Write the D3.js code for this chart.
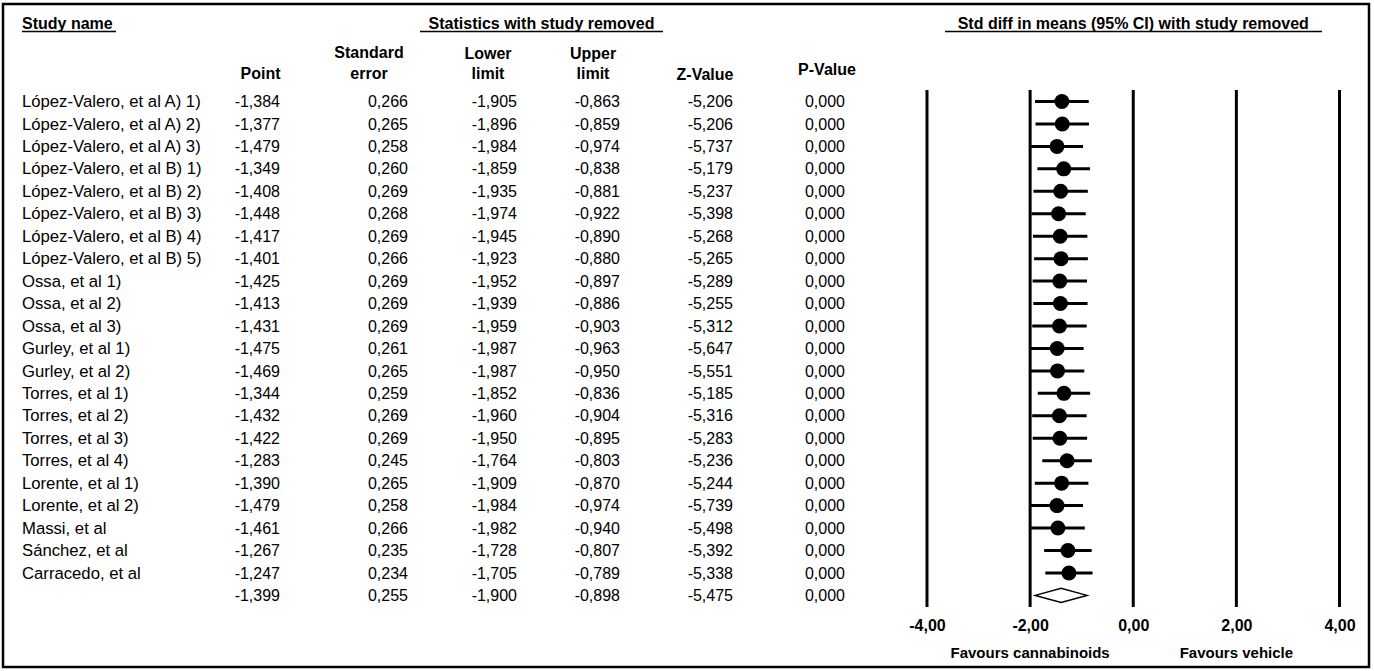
<!DOCTYPE html>
<html>
<head>
<meta charset="utf-8">
<script src="https://cdn.jsdelivr.net/npm/d3@7"></script>
<style>
  html, body { margin: 0; padding: 0; background: #fff; }
  svg { display: block; font-family: Arial, "Liberation Sans", Helvetica, sans-serif; }
</style>
</head>
<body>
<svg id="chart" width="1374" height="671"></svg>
<script>
// Leave-one-out sensitivity analysis: each row is the pooled result with that study removed
const studies = [
  "López-Valero, et al A) 1)", "López-Valero, et al A) 2)", "López-Valero, et al A) 3)",
  "López-Valero, et al B) 1)", "López-Valero, et al B) 2)", "López-Valero, et al B) 3)",
  "López-Valero, et al B) 4)", "López-Valero, et al B) 5)",
  "Ossa, et al 1)", "Ossa, et al 2)", "Ossa, et al 3)",
  "Gurley, et al 1)", "Gurley, et al 2)",
  "Torres, et al 1)", "Torres, et al 2)", "Torres, et al 3)", "Torres, et al 4)",
  "Lorente, et al 1)", "Lorente, et al 2)",
  "Massi, et al", "Sánchez, et al", "Carracedo, et al"
];
const point = [-1.384, -1.377, -1.479, -1.349, -1.408, -1.448, -1.417, -1.401, -1.425, -1.413, -1.431,
               -1.475, -1.469, -1.344, -1.432, -1.422, -1.283, -1.390, -1.479, -1.461, -1.267, -1.247];
const stdErr = [0.266, 0.265, 0.258, 0.260, 0.269, 0.268, 0.269, 0.266, 0.269, 0.269, 0.269,
                0.261, 0.265, 0.259, 0.269, 0.269, 0.245, 0.265, 0.258, 0.266, 0.235, 0.234];
const lower = [-1.905, -1.896, -1.984, -1.859, -1.935, -1.974, -1.945, -1.923, -1.952, -1.939, -1.959,
               -1.987, -1.987, -1.852, -1.960, -1.950, -1.764, -1.909, -1.984, -1.982, -1.728, -1.705];
const upper = [-0.863, -0.859, -0.974, -0.838, -0.881, -0.922, -0.890, -0.880, -0.897, -0.886, -0.903,
               -0.963, -0.950, -0.836, -0.904, -0.895, -0.803, -0.870, -0.974, -0.940, -0.807, -0.789];
const zValue = [-5.206, -5.206, -5.737, -5.179, -5.237, -5.398, -5.268, -5.265, -5.289, -5.255, -5.312,
                -5.647, -5.551, -5.185, -5.316, -5.283, -5.236, -5.244, -5.739, -5.498, -5.392, -5.338];
const pValue = [0, 0, 0, 0, 0, 0, 0, 0, 0, 0, 0, 0, 0, 0, 0, 0, 0, 0, 0, 0, 0, 0];

// Overall pooled estimate
const overall = { point: -1.399, se: 0.255, lower: -1.900, upper: -0.898, z: -5.475, p: 0.000 };

const axisTicks = [-4, -2, 0, 2, 4];
const favourLabels = [{ at: -2, text: "Favours cannabinoids" }, { at: 2, text: "Favours vehicle" }];

// Number formatting with decimal comma
const locale = d3.formatLocale({ decimal: ",", thousands: ".", grouping: [3], currency: ["", ""], minus: "-" });
const f3 = locale.format(".3f");
const f2 = locale.format(".2f");

const svg = d3.select("#chart");
const nRows = studies.length + 1;

const x = d3.scaleLinear().domain([-4, 4]).range([927, 1339.5]);
const y = d3.scalePoint().domain(d3.range(nRows)).range([101.5, 101.5 + 22.45 * (nRows - 1)]);
const base = 5.6; // offset from row centre to text baseline

// Outer frame
svg.append("rect")
  .attr("x", 3).attr("y", 4).attr("width", 1366).attr("height", 663)
  .attr("fill", "none").attr("stroke", "#000").attr("stroke-width", 2.5);

// Section headers with underlines
const headers = [
  { text: "Study name", x: 22, anchor: "start", u0: 22, u1: 116 },
  { text: "Statistics with study removed", x: 541.5, anchor: "middle", u0: 420, u1: 663 },
  { text: "Std diff in means (95% CI) with study removed", x: x(0), anchor: "middle", u0: 945, u1: 1322 }
];
const hg = svg.append("g").attr("font-weight", "bold").attr("font-size", 16);
hg.selectAll("text.h").data(headers).join("text")
  .attr("x", d => d.x).attr("y", 23 + base)
  .attr("text-anchor", d => d.anchor).text(d => d.text);
hg.selectAll("line.u").data(headers).join("line")
  .attr("x1", d => d.u0).attr("x2", d => d.u1)
  .attr("y1", 31.5).attr("y2", 31.5)
  .attr("stroke", "#000").attr("stroke-width", 1.5);

// Column headers
const colHeads = [
  { lines: ["Point"], x: 260.5, y: [73.5] },
  { lines: ["Standard", "error"], x: 369, y: [52, 73.5] },
  { lines: ["Lower", "limit"], x: 488, y: [53, 73.5] },
  { lines: ["Upper", "limit"], x: 593, y: [53, 73.5] },
  { lines: ["Z-Value"], x: 705, y: [74.5] },
  { lines: ["P-Value"], x: 827, y: [69.5] }
];
colHeads.forEach(c => {
  c.lines.forEach((t, i) => {
    hg.append("text").attr("x", c.x).attr("y", c.y[i] + base)
      .attr("text-anchor", "middle").text(t);
  });
});

// Table body
const rows = studies.map((s, i) => ({
  name: s, point: point[i], se: stdErr[i], lower: lower[i], upper: upper[i], z: zValue[i], p: pValue[i], idx: i
}));
const allRows = rows.concat([{ name: "", point: overall.point, se: overall.se, lower: overall.lower,
  upper: overall.upper, z: overall.z, p: overall.p, idx: studies.length }]);

const cols = [
  { key: "point", x: 280 }, { key: "se", x: 408 }, { key: "lower", x: 517 },
  { key: "upper", x: 620 }, { key: "z", x: 733 }, { key: "p", x: 845 }
];

const tg = svg.append("g").attr("font-size", 16).attr("fill", "#000");
tg.selectAll("text.name").data(allRows).join("text")
  .attr("class", "name").attr("x", 22).attr("y", d => y(d.idx) + base)
  .attr("font-size", 16.7).text(d => d.name);
cols.forEach(c => {
  tg.selectAll("text.c-" + c.key).data(allRows).join("text")
    .attr("class", "c-" + c.key).attr("x", c.x).attr("y", d => y(d.idx) + base)
    .attr("text-anchor", "end").text(d => f3(d[c.key]));
});

// Forest plot: reference lines at each tick
const pg = svg.append("g");
pg.selectAll("line.grid").data(axisTicks).join("line")
  .attr("x1", d => x(d)).attr("x2", d => x(d))
  .attr("y1", 90).attr("y2", 607)
  .attr("stroke", "#000").attr("stroke-width", 3);

// Tick labels from an axis
const axis = d3.axisBottom(x).tickValues(axisTicks).tickSize(0).tickPadding(0).tickFormat(f2);
const ag = svg.append("g").attr("transform", "translate(0,619.5)").call(axis);
ag.select(".domain").remove();
ag.selectAll("text").attr("font-size", 16).attr("font-weight", "bold")
  .attr("font-family", "Arial, 'Liberation Sans', sans-serif").attr("fill", "#000");

// Confidence intervals and point estimates
pg.selectAll("line.ci").data(rows).join("line")
  .attr("x1", d => x(d.lower)).attr("x2", d => x(d.upper))
  .attr("y1", d => y(d.idx)).attr("y2", d => y(d.idx))
  .attr("stroke", "#000").attr("stroke-width", 3);
pg.selectAll("circle.pt").data(rows).join("circle")
  .attr("cx", d => x(d.point)).attr("cy", d => y(d.idx)).attr("r", 7.5).attr("fill", "#000");

// Summary diamond
const yc = y(studies.length);
pg.append("path")
  .attr("d", `M${x(overall.lower)},${yc} L${x(overall.point)},${yc - 7} L${x(overall.upper)},${yc} L${x(overall.point)},${yc + 7} Z`)
  .attr("fill", "#fff").attr("stroke", "#000").attr("stroke-width", 1.5);

// Direction labels
svg.append("g").attr("font-size", 15).attr("font-weight", "bold")
  .selectAll("text").data(favourLabels).join("text")
  .attr("x", d => x(d.at)).attr("y", 653 + 5.3)
  .attr("text-anchor", "middle").text(d => d.text);
</script>
</body>
</html>
